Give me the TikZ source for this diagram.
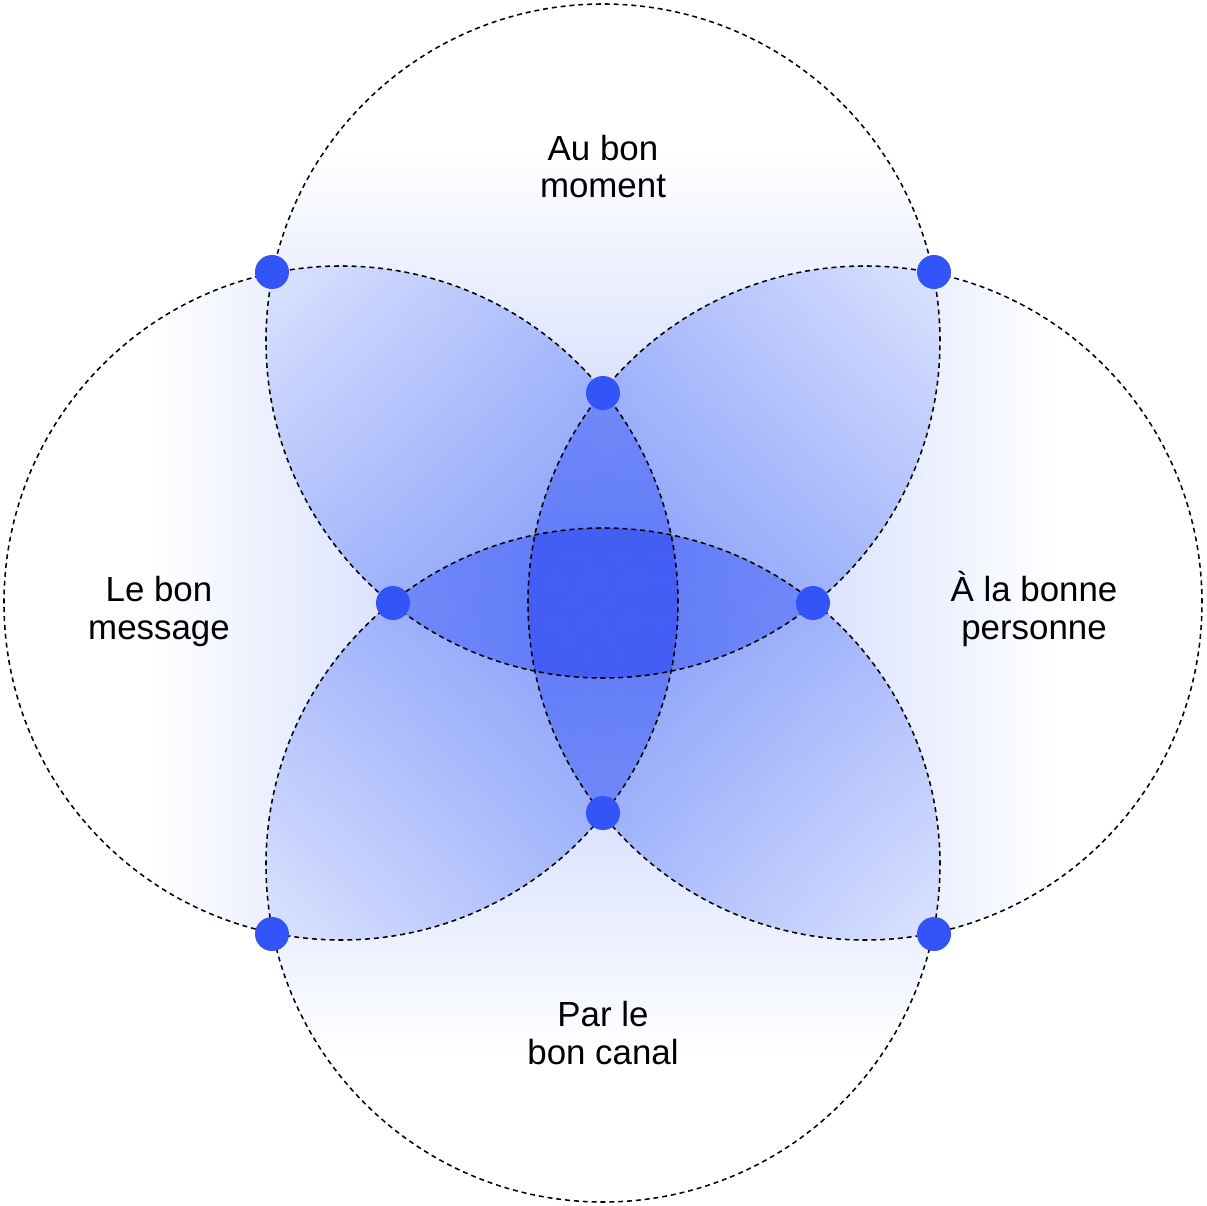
\documentclass[tikz,border=0pt]{standalone}
\usepackage{fontspec}
\setmainfont{Liberation Sans}
\usepackage{tikz}
\usetikzlibrary{positioning}
\definecolor{dotblue}{RGB}{51,85,247}
\definecolor{fadeend}{RGB}{172,190,252}
\pgfdeclarehorizontalshading{lensfade}{100bp}{color(0bp)=(white); color(36bp)=(white); color(75bp)=(fadeend); color(100bp)=(fadeend)}

\begin{document}
\begin{tikzpicture}[x=0.025cm, y=0.025cm,
	ring/.style={draw=black, line width=1.1pt, dash pattern=on 3.5pt off 2.8pt},
	dot/.style={circle, fill=dotblue, inner sep=0pt, minimum size=0.85cm},
	lbl/.style={font=\fontsize{24.8}{27}\selectfont, align=center, anchor=base}]
	\useasboundingbox (-603,-603) rectangle (603,603);

	% the four circles, faded towards the outside
	\foreach \cx/\cy/\ang in {0/262/-90, -262/0/0, 262/0/180, 0/-262/90}
		\shade[shading=lensfade, shading angle=\ang, blend mode=multiply] (\cx,\cy) circle (337);
	\foreach \cx/\cy in {0/262, -262/0, 262/0, 0/-262}
		\draw[ring] (\cx,\cy) circle (337);

	\node (dtl) at (-331,331) [dot] {};
	\node (dtr) at (331,331) [dot] {};
	\node (dbl) at (-331,-331) [dot] {};
	\node (dbr) at (331,-331) [dot] {};
	\node (dt) at (0,210) [dot] {};
	\node (db) at (0,-210) [dot] {};
	\node (dl) at (-210,0) [dot] {};
	\node (dr) at (210,0) [dot] {};

	\node (moment) at (0,405) [lbl] {Au bon\\moment};
	\node (message) at (-444,-36) [lbl] {Le bon\\message};
	\node (personne) at (431,-36) [lbl] {À la bonne\\personne};
	\node (canal) at (0,-461) [lbl] {Par le\\bon canal};
\end{tikzpicture}
\end{document}
